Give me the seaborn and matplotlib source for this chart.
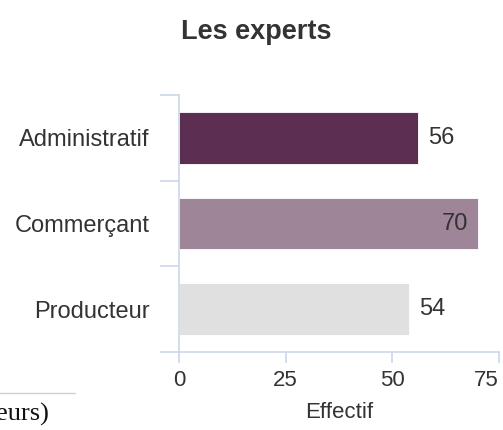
import matplotlib
matplotlib.use("Agg")
import matplotlib.pyplot as plt
import seaborn as sns
import pandas as pd
from matplotlib.ticker import FixedLocator

categories = ["Administratif", "Commerçant", "Producteur"]
values = [56, 70, 54]
bar_colors = ["#632657", "#a28199", "#e0e0e0"]
x_ticks = [0, 25, 50, 75]
title = "Les experts"
x_label = "Effectif"

sns.set_theme(style="white")
plt.rcParams["font.family"] = ["Liberation Sans", "DejaVu Sans"]

axis_col = "#ccd6eb"
text_col = "#333333"

df = pd.DataFrame({"cat": categories, "val": values})

fig = plt.figure(figsize=(5.03, 4.30), dpi=100)
ax = fig.add_axes([179 / 503, (430 - 352) / 430, 320 / 503, 257 / 430])

sns.barplot(data=df, x="val", y="cat", hue="cat", palette=bar_colors,
            orient="h", width=0.6, legend=False, ax=ax,
            edgecolor="white", linewidth=0.6)

ax.set_xlim(0, 75)
ax.set_ylim(2.5, -0.5)
ax.set_xticks(x_ticks)
ax.set_xticklabels([str(t) for t in x_ticks])
ax.set_ylabel("")
ax.set_xlabel(x_label, fontsize=16, color=text_col, labelpad=8)

for s in ["top", "right"]:
    ax.spines[s].set_visible(False)
for s in ["left", "bottom"]:
    ax.spines[s].set_color(axis_col)
    ax.spines[s].set_linewidth(1.2)

# category separators on the y axis
ax.yaxis.set_minor_locator(FixedLocator([-0.5, 0.5, 1.5, 2.5]))
ax.tick_params(axis="y", which="minor", left=True, length=13.7, width=1.2, color=axis_col)
ax.tick_params(axis="y", which="major", left=False, length=0, pad=21,
               labelsize=17, labelcolor=text_col)
ax.tick_params(axis="x", which="major", bottom=True, length=8, width=1.2,
               color=axis_col, labelsize=16, labelcolor=text_col, pad=5)

# keep the last x label inside the plot edge
ax.get_xticklabels()[-1].set_horizontalalignment("right")

# value labels
for i, v in enumerate(values):
    if v >= 65:
        ax.annotate(str(v), xy=(v, i), xytext=(-7, 0), textcoords="offset points",
                    ha="right", va="center", fontsize=17, color=text_col)
    else:
        ax.annotate(str(v), xy=(v, i), xytext=(7, 0), textcoords="offset points",
                    ha="left", va="center", fontsize=17, color=text_col)

fig.text(256 / 503, 1 - 32 / 430, title, ha="center", va="center",
         fontsize=19.5, fontweight="bold", color=text_col)

# caption fragment at the lower left
fig.add_artist(plt.Line2D([0, 75 / 503], [1 - 393 / 430, 1 - 393 / 430],
                          color="#d0d0d0", linewidth=1.0))
fig.text(-4 / 503, 1 - 414 / 430, "eurs)", ha="left", va="center",
         fontsize=19, color="#111111", family=["Liberation Serif", "DejaVu Serif"])

fig.savefig("out.png", dpi=100)
